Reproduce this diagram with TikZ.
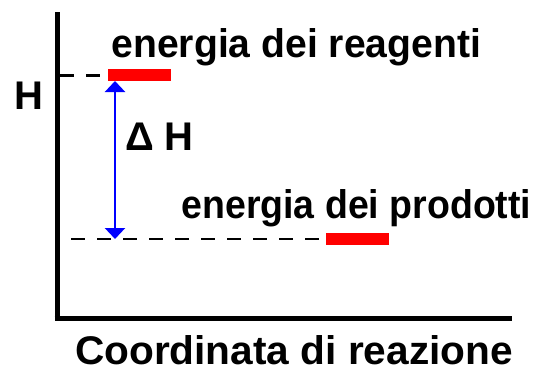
\documentclass[tikz,border=0pt]{standalone}
\usepackage{fontspec}
\usepackage{graphicx}
\setmainfont{Liberation Sans}
\usetikzlibrary{arrows.meta,calc}
\begin{document}
\begin{tikzpicture}[x=1pt,y=-1pt,
  lab/.style={inner sep=0pt,outer sep=0pt,anchor=base west,font=\fontsize{40}{48}\selectfont\bfseries},
  level/.style={fill=red,draw=none,inner sep=0pt,outer sep=0pt,minimum width=63pt,minimum height=12pt,anchor=north west},
  axis/.style={line width=5pt,black},
  guide/.style={line width=2.5pt,black,dash pattern=on 14pt off 12pt},
  delta/.style={blue,line width=2.5pt,{Triangle[width=20pt,length=11pt]}-{Triangle[width=20pt,length=11pt]}}
]
\useasboundingbox (0,0) rectangle (548,383);
% axes
\coordinate (ytop) at (57,12);
\coordinate (orig) at (57,318);
\coordinate (xend) at (512,318);
\draw[axis] (ytop) -- (57,320.5);
\draw[axis] (54.5,318) -- (xend);
% levels
\node[level] (reag) at (108,69) {};
\node[level] (prod) at (326,233) {};
% guides
\coordinate (g1) at (60,75.5);
\coordinate (g2) at (60,239);
\draw[guide] (g1) -- (reag.west |- g1);
\draw[guide,dash phase=15pt] (g2) -- (prod.west |- g2);
% Delta H arrow
\coordinate (atop) at ($(reag.south west)+(7,0)$);
\coordinate (abot) at (atop |- g2);
\draw[delta] (atop) -- (abot);
% labels
\node[lab] (treag) at (111.5,57) {\scalebox{0.978}[1]{energia dei reagenti}};
\node[lab] (tprod) at (181.5,218) {\scalebox{0.937}[1]{energia dei prodotti}};
\node[lab] (tx) at (75,364) {\scalebox{1.016}[1]{Coordinata di reazione}};
\node[lab] (ty) at (14,109) {H};
\node[lab] (tdh) at (125,150) {Δ H};
\end{tikzpicture}
\end{document}
